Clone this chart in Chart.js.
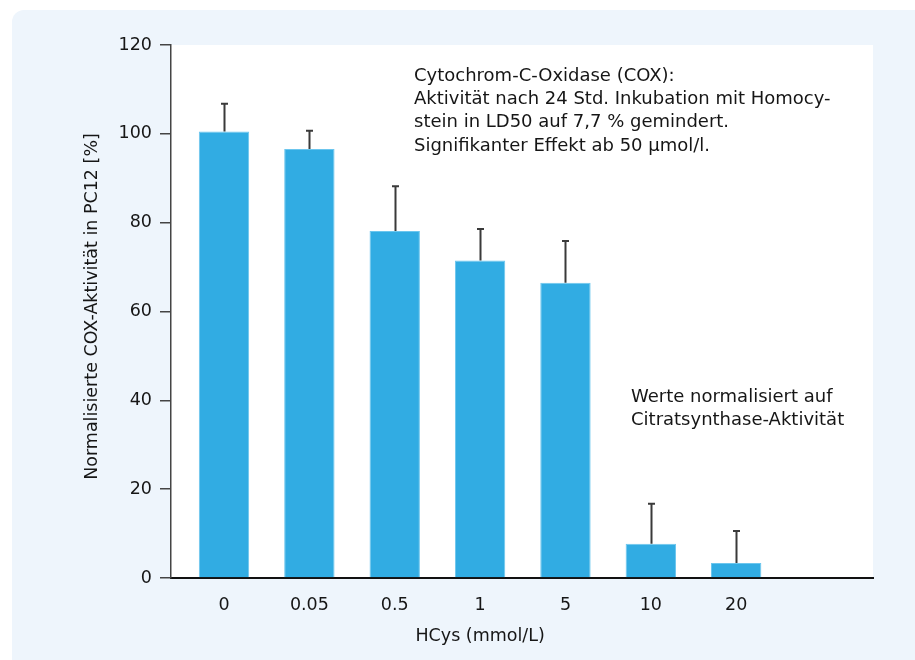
<!DOCTYPE html>
<html>
<head>
<meta charset="utf-8">
<script src="https://cdn.jsdelivr.net/npm/chart.js@4/dist/chart.umd.min.js"></script>
<style>
	html, body { margin: 0; padding: 0; background: #fff; }
	#wrap { width: 915px; height: 660px; position: relative; }
</style>
</head>
<body>
<div id="wrap"><canvas id="chart" width="915" height="660"></canvas></div>
<script>
// HCys concentrations (mmol/L) and COX activity
const categories = ["0", "0.05", "0.5", "1", "5", "10", "20"];
const values = [100.5, 96.6, 78.1, 71.5, 66.5, 7.7, 3.4];
const errors = [6.3, 4.1, 10.1, 7.1, 9.4, 9.0, 7.2];
const yTicks = [0, 20, 40, 60, 80, 100, 120];

const noteTop = [
	"Cytochrom-C-Oxidase (COX):",
	"Aktivität nach 24 Std. Inkubation mit Homocy-",
	"stein in LD50 auf 7,7 % gemindert.",
	"Signifikanter Effekt ab 50 µmol/l.",
];
const noteRight = ["Werte normalisiert auf", "Citratsynthase-Aktivität"];
const yTitle = "Normalisierte COX-Aktivität in PC12 [%]";
const xTitle = "HCys (mmol/L)";

const FONT = "'DejaVu Sans', 'Noto Sans', sans-serif";
const TEXT = "#161616";

// panel + white plot background
const backdrop = {
	id: "backdrop",
	beforeDraw(chart) {
		const { ctx, chartArea: a } = chart;
		ctx.save();
		ctx.fillStyle = "#ffffff";
		ctx.fillRect(0, 0, chart.width, chart.height);
		ctx.fillStyle = "#eef5fc";
		ctx.beginPath();
		ctx.roundRect(12, 10, chart.width + 20, chart.height + 20, 12);
		ctx.fill();
		ctx.fillStyle = "#ffffff";
		ctx.fillRect(a.left, a.top, a.right - a.left, a.bottom - a.top);
		ctx.restore();
	},
};

// error bars (upper only) + annotation text
const extras = {
	id: "extras",
	afterDatasetsDraw(chart) {
		const { ctx } = chart;
		const x = chart.scales.x;
		const y = chart.scales.y;
		ctx.save();
		ctx.strokeStyle = "#3a3a3a";
		ctx.lineWidth = 2;
		values.forEach((v, i) => {
			const px = Math.round(x.getPixelForValue(i)) + 0.5;
			const top = y.getPixelForValue(v);
			const hi = y.getPixelForValue(v + errors[i]);
			ctx.beginPath();
			ctx.moveTo(px, top);
			ctx.lineTo(px, hi);
			ctx.moveTo(px - 3.5, hi);
			ctx.lineTo(px + 3.5, hi);
			ctx.stroke();
		});

		ctx.fillStyle = TEXT;
		ctx.font = "18px " + FONT;
		ctx.textAlign = "left";
		ctx.textBaseline = "middle";
		noteTop.forEach((t, i) => ctx.fillText(t, 414, 76 + i * 23.3));
		noteRight.forEach((t, i) => ctx.fillText(t, 631, 397 + i * 23.3));

		// x title centred under the labelled categories
		ctx.font = "17.5px " + FONT;
		ctx.textAlign = "center";
		const cx = (x.getPixelForValue(0) + x.getPixelForValue(categories.length - 1)) / 2;
		ctx.fillText(xTitle, cx, 636);

		// rotated y title
		ctx.translate(92, (chart.chartArea.top + chart.chartArea.bottom) / 2 - 5);
		ctx.rotate(-Math.PI / 2);
		ctx.fillText(yTitle, 0, 0);
		ctx.restore();
	},
};

new Chart(document.getElementById("chart"), {
	type: "bar",
	data: {
		datasets: [
			{
				data: values.map((v, i) => ({ x: i, y: v })),
				backgroundColor: "#31ace3",
				borderColor: "#6cc6ee",
				borderWidth: 1,
				barPercentage: 0.59,
				categoryPercentage: 1,
			},
		],
	},
	options: {
		responsive: false,
		animation: false,
		layout: { padding: { left: 0, top: 45, right: 42, bottom: 0 } },
		plugins: { legend: { display: false }, tooltip: { enabled: false } },
		scales: {
			x: {
				type: "linear",
				offset: false,
				min: -0.621,
				max: 7.603,
				afterFit: (s) => { s.height = 82; },
				grid: { display: false, drawTicks: false },
				border: { display: true, color: "#111", width: 2 },
				ticks: {
					stepSize: 1,
					includeBounds: false,
					autoSkip: false,
					maxRotation: 0,
					padding: 17,
					color: TEXT,
					font: { family: FONT, size: 17.5 },
					callback: (v) => (Number.isInteger(v) && categories[v] !== undefined ? categories[v] : ""),
				},
			},
			y: {
				min: 0,
				max: 120,
				afterFit: (s) => { s.width = 171; },
				afterBuildTicks: (s) => { s.ticks = yTicks.map((v) => ({ value: v })); },
				grid: { drawOnChartArea: false, drawTicks: true, tickLength: 11, color: "#444", lineWidth: 1.5 },
				border: { color: "#444", width: 1.5 },
				ticks: {
					padding: 8,
					color: TEXT,
					font: { family: FONT, size: 17.5 },
				},
			},
		},
	},
	plugins: [backdrop, extras],
});
</script>
</body>
</html>
